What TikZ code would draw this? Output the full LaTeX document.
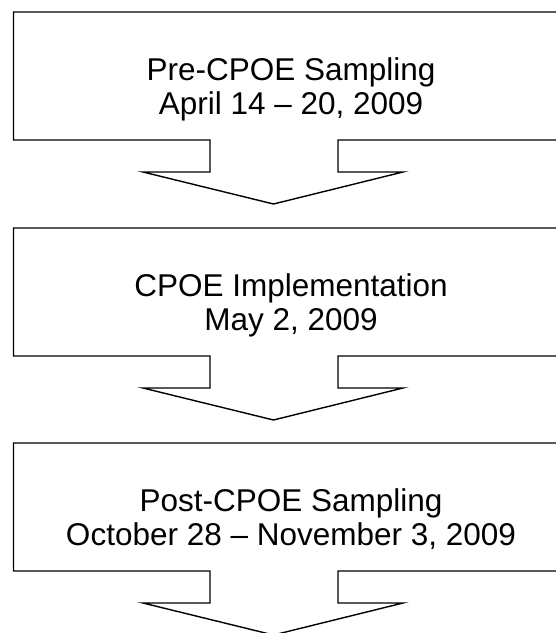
\documentclass[tikz,border=0pt]{standalone}
\usepackage{fontspec}
\setmainfont{Liberation Sans}
\begin{document}
\begin{tikzpicture}[x=1pt,y=-1pt,
  callout/.style={draw=black,line width=1.4pt,line join=miter,fill=white},
  lbl/.style={anchor=base,inner sep=0pt,font=\fontsize{31.5}{36}\selectfont}]
\useasboundingbox (0,0) rectangle (556,633);
\clip (0,0) rectangle (556,633);
\foreach \t/\n in {12/a,228/b,443/c}{
  \draw[callout] (620,\t) -- (13.5,\t) -- (13.5,\t+128) -- (210,\t+128) -- (210,\t+160)
     -- (143,\t+160) -- (273.5,\t+192) -- (403,\t+160) -- (338,\t+160) -- (338,\t+128) -- (620,\t+128);
  \coordinate (\n1) at (291,\t+68);
  \coordinate (\n2) at (291,\t+102);
}
\node[lbl] (ta1) at (a1) {Pre-CPOE Sampling};
\node[lbl] (ta2) at (a2) {April 14 – 20, 2009};
\node[lbl] (tb1) at (b1) {CPOE Implementation};
\node[lbl] (tb2) at (b2) {May 2, 2009};
\node[lbl] (tc1) at (c1) {Post-CPOE Sampling};
\node[lbl] (tc2) at (c2) {October 28 – November 3, 2009};
\end{tikzpicture}
\end{document}
